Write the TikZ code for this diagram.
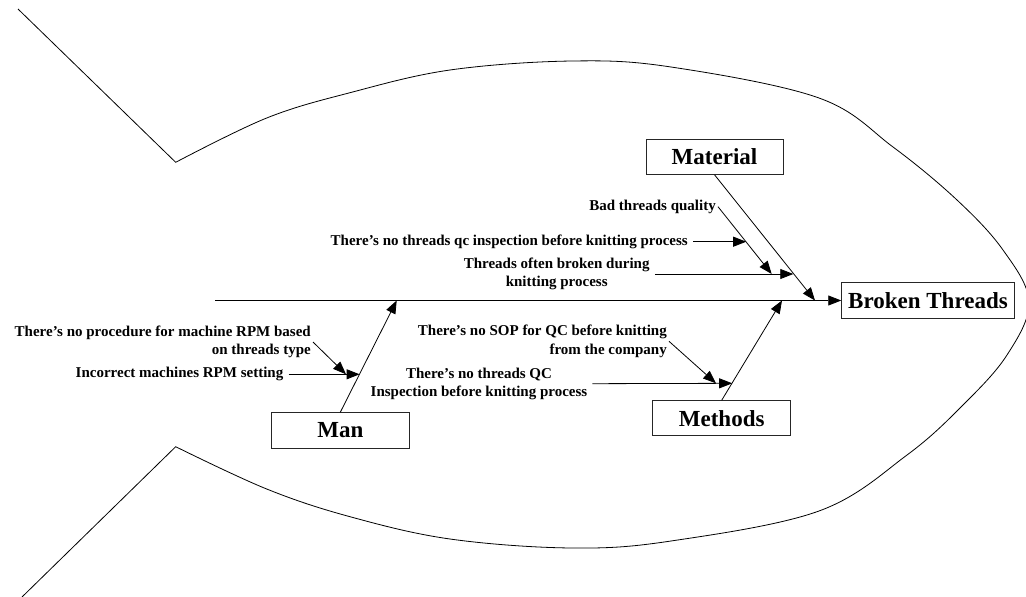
\documentclass[tikz,border=0pt]{standalone}
\usepackage{fontspec}
\setmainfont{Liberation Serif}
\usetikzlibrary{arrows.meta,calc}
\begin{document}
\begin{tikzpicture}[x=1pt,y=-1pt,
  box/.style={draw=black!85, line width=0.9pt, inner sep=0pt, font=\fontsize{23}{27}\selectfont\bfseries},
  lbl/.style={inner sep=2pt, font=\fontsize{15}{18.5}\selectfont\bfseries},
  arr/.style={line width=0.8pt, -{Triangle[length=13pt,width=10pt]}},
  gap/.style={shorten <=3pt},
  ln/.style={line width=0.8pt}]
\useasboundingbox (0,0) rectangle (1026,597);
\clip (0,0) rectangle (1026,597);
% fish outline
\draw[ln] (18,9) -- plot[smooth, tension=0.6] coordinates {
  (175.7,162.3) (266.7,118) (350,92.7) (450,70) (572,61) (671,67) (819,98) (893,147) (957,200) (1003,250) (1029,302)
  (1007,355) (963,405) (907,455) (819,511) (671,541) (572,548) (450,539) (350,516.7) (266.7,489) (175.7,446.7)}
  -- (22,597);
% boxes
\node[box, minimum width=172.6pt, minimum height=35.6pt] (bt) at (928,300.5) {Broken Threads};
\node[box, minimum width=137pt, minimum height=35pt] (mat) at (714.5,156.8) {Material};
\node[box, minimum width=138pt, minimum height=35pt] (meth) at (721.7,418.2) {Methods};
\node[box, minimum width=137.3pt, minimum height=35.6pt] (man) at (340.3,430.5) {Man};
% junctions
\coordinate (tail) at (215,300.5);
\coordinate (mj) at (815,300.5);
\coordinate (manj) at (396.7,300.5);
\coordinate (methj) at (782,300.5);
\coordinate (j1) at (793.3,274);
\coordinate (j2) at (771.7,274);
\coordinate (j3) at (746.2,241.7);
\coordinate (j4) at (359.6,374.3);
\coordinate (j5) at (346,374.3);
\coordinate (j6) at (716,383.3);
\coordinate (j7) at (732.2,383.3);
% spine and bones
\draw[arr] (tail) -- (bt.west);
\draw[arr] (mat.south) -- (mj);
\draw[arr] (man.north) -- (manj);
\draw[arr] (meth.north) -- (methj);
% material causes
\node[lbl, align=center] (tob) at (556.7,274) {Threads often broken during\\knitting process};
\node[lbl, anchor=east] (btq) at (718,206.7) {Bad threads quality};
\node[lbl, anchor=east] (nqc) at (690,241.7) {There’s no threads qc inspection before knitting process};
\draw[arr, gap] (tob.east) -- (j1);
\draw[arr] (btq.east) -- (j2);
\draw[arr, gap] (nqc.east) -- (j3);
% man causes
\node[lbl, anchor=east] (inc) at (285.5,374.3) {Incorrect machines RPM setting};
\node[lbl, anchor=east, align=right] (proc) at (313,342) {There’s no procedure for machine RPM based\\on threads type};
\draw[arr, gap] (inc.east) -- (j4);
\draw[arr] (proc.east) -- (j5);
% methods causes
\node[lbl, anchor=east, align=right] (sop) at (669,341.3) {There’s no SOP for QC before knitting\\from the company};
\node[lbl, align=center] (nqc2) at (479,383.7) {There’s no threads QC\\Inspection before knitting process};
\draw[arr] (sop.east) -- (j6);
\draw[arr, gap] (nqc2.east) -- (j7);
\end{tikzpicture}
\end{document}
